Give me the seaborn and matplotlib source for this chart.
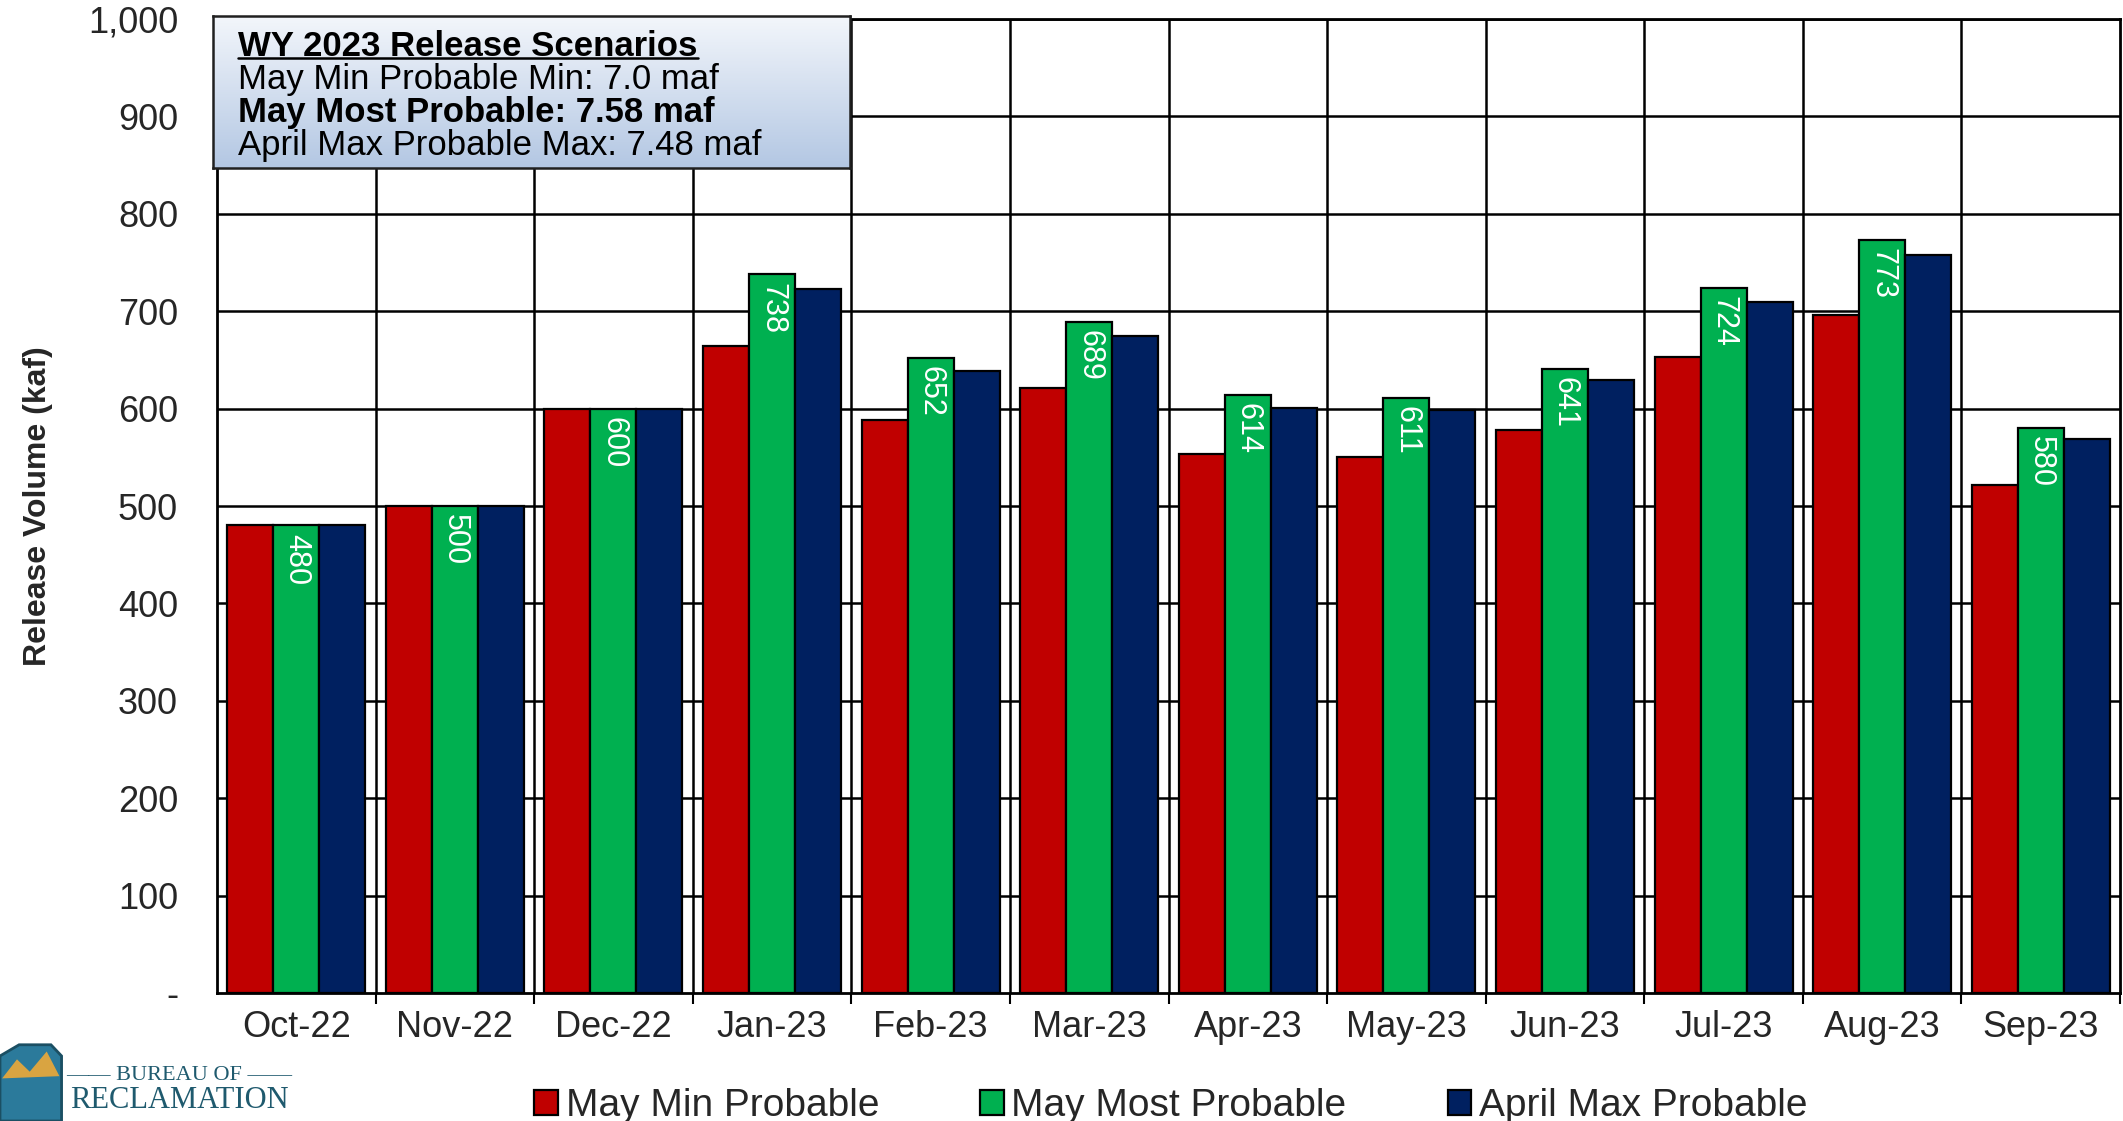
import numpy as np
import pandas as pd
import seaborn as sns
import matplotlib.pyplot as plt
from matplotlib import font_manager
from matplotlib.colors import LinearSegmentedColormap
from matplotlib.lines import Line2D
from matplotlib.patches import Patch

# Chart data
months = ["Oct-22", "Nov-22", "Dec-22", "Jan-23", "Feb-23", "Mar-23",
          "Apr-23", "May-23", "Jun-23", "Jul-23", "Aug-23", "Sep-23"]
scenarios = ["May Min Probable", "May Most Probable", "April Max Probable"]
may_min = [480, 500, 600, 664, 588, 621, 553, 550, 578, 653, 696, 522]
may_most = [480, 500, 600, 738, 652, 689, 614, 611, 641, 724, 773, 580]
april_max = [480, 500, 600, 723, 639, 675, 601, 599, 629, 709, 758, 569]
y_ticks = [0, 100, 200, 300, 400, 500, 600, 700, 800, 900, 1000]
y_tick_labels = ["-", "100", "200", "300", "400", "500", "600", "700", "800", "900", "1,000"]
box_lines = ["May Min Probable Min: 7.0 maf",
             "May Most Probable: 7.58 maf",
             "April Max Probable Max: 7.48 maf"]

colors = ["#C00000", "#00B050", "#002060"]

installed = {f.name for f in font_manager.fontManager.ttflist}
narrow = "Liberation Sans Narrow" if "Liberation Sans Narrow" in installed else "Liberation Sans"

sns.set_theme(style="white")
plt.rcParams["font.family"] = [narrow, "DejaVu Sans"]

df = pd.DataFrame({
    "month": months * 3,
    "scenario": np.repeat(scenarios, len(months)),
    "volume": may_min + may_most + april_max,
})

fig = plt.figure(figsize=(21.23, 11.21), dpi=100)
ax = fig.add_axes([217 / 2123, 1 - 993 / 1121, (2120 - 217) / 2123, (993 - 19) / 1121])

sns.barplot(data=df, x="month", y="volume", hue="scenario", order=months,
            hue_order=scenarios, palette=colors, width=0.87, saturation=1,
            edgecolor="black", linewidth=1.6, ax=ax, zorder=3)
ax.get_legend().remove()

ax.set_ylim(0, 1000)
ax.set_xlim(-0.5, len(months) - 0.5)
ax.set_yticks(y_ticks)
ax.set_yticklabels(y_tick_labels)
ax.set_xticks(np.arange(len(months)))
ax.set_xticklabels(months)
ax.set_xticks(np.arange(len(months)) + 0.5, minor=True)
ax.tick_params(axis="x", which="major", length=0, pad=12, labelsize=26)
ax.tick_params(axis="x", which="minor", length=8, width=1.5, color="black", direction="out", bottom=True)
ax.tick_params(axis="y", length=0, pad=28, labelsize=26)

# grid: horizontal lines at every 100, vertical lines between months
for y in y_ticks[1:]:
    ax.axhline(y, color="black", lw=1.8, zorder=1)
for x in np.arange(len(months) - 1) + 0.5:
    ax.axvline(x, color="black", lw=1.8, zorder=1)
for s in ax.spines.values():
    s.set_color("black")
    s.set_linewidth(2)

ax.set_xlabel("")
ax.set_ylabel("Release Volume (kaf)", fontsize=23, fontweight="bold",
              family=["Liberation Sans", "DejaVu Sans"], labelpad=25)

# white rotated labels inside the green bars
for bar, v in zip(ax.containers[1], may_most):
    ax.annotate(str(v), (bar.get_x() + bar.get_width() / 2, bar.get_height()),
                xytext=(0, -6), textcoords="offset points", rotation=-90,
                ha="center", va="top", color="white", fontsize=22,
                family=["Liberation Sans", "DejaVu Sans"], zorder=5)

# scenario summary box with gradient fill
box = fig.add_axes([213 / 2123, 1 - 168 / 1121, 637 / 2123, 152 / 1121], zorder=10)
grad = LinearSegmentedColormap.from_list("g", ["#B3C7E3", "#F3F6FB"])
box.imshow(np.linspace(0, 1, 256).reshape(-1, 1), cmap=grad, origin="lower",
           aspect="auto", extent=[0, 1, 0, 1])
box.set_xticks([])
box.set_yticks([])
for s in box.spines.values():
    s.set_color("#202020")
    s.set_linewidth(1.8)
title_txt = box.text(0.04, 0.80, "WY 2023 Release Scenarios", transform=box.transAxes,
                     fontsize=25, fontweight="bold", va="center", ha="left", color="black")
weights = ["normal", "bold", "normal"]
for i, (line, w) in enumerate(zip(box_lines, weights)):
    box.text(0.04, 0.585 - 0.22 * i, line, transform=box.transAxes, fontsize=25,
             fontweight=w, va="center", ha="left", color="black")

fig.canvas.draw()
bb = title_txt.get_window_extent().transformed(fig.transFigure.inverted())
uy = bb.y0 + 0.14 * (bb.y1 - bb.y0)
fig.add_artist(Line2D([bb.x0, bb.x1], [uy, uy], transform=fig.transFigure,
                      color="black", lw=1.8, zorder=11))

# legend at the bottom
handles = [Patch(facecolor=c, edgecolor="black", linewidth=1.6) for c in colors]
fig.legend(handles, scenarios, loc="center", bbox_to_anchor=(0.5515, 0.013), ncol=3,
           frameon=False, fontsize=28, handlelength=0.6, handleheight=0.6,
           handletextpad=0.2, columnspacing=2.6)

# Bureau of Reclamation mark
fig.patches.append(plt.Polygon([[0.0, 0.0], [0.0, 0.058], [0.009, 0.068], [0.024, 0.068],
                                [0.029, 0.058], [0.029, 0.0]], closed=True,
                               transform=fig.transFigure, facecolor="#2B7A9B",
                               edgecolor="#1B4F63", lw=2))
fig.patches.append(plt.Polygon([[0.001, 0.038], [0.008, 0.055], [0.014, 0.044], [0.022, 0.062],
                                [0.028, 0.04]], closed=True, transform=fig.transFigure,
                               facecolor="#D9A441", edgecolor="none"))
fig.text(0.0845, 0.041, "—— BUREAU OF ——", fontsize=16, color="#1F5A6E",
         family=["Liberation Serif", "DejaVu Serif"], ha="center", va="center")
fig.text(0.0845, 0.018, "RECLAMATION", fontsize=22, color="#1F5A6E",
         family=["Liberation Serif", "DejaVu Serif"], ha="center", va="center")

fig.savefig("out.png", dpi=100)
